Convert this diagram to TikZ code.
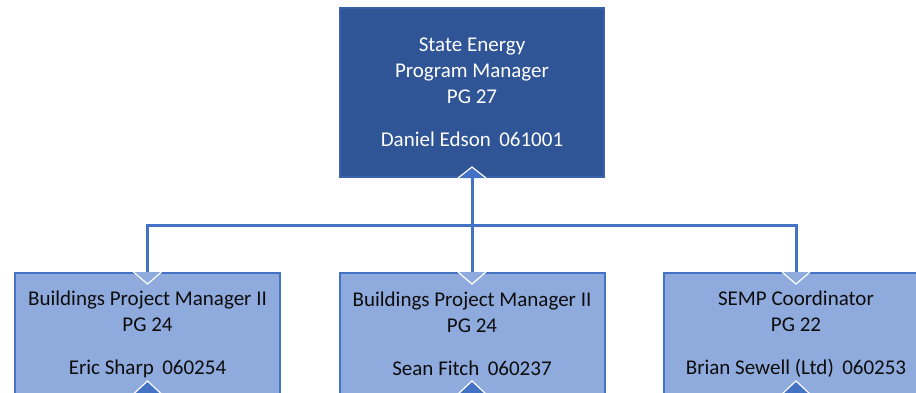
\documentclass[tikz,border=0pt]{standalone}
\usepackage{fontspec}
\setmainfont{Carlito}
\usetikzlibrary{positioning}
\definecolor{boxdark}{HTML}{2F5597}
\definecolor{boxlight}{HTML}{8FAADC}
\definecolor{linkblue}{HTML}{4472C4}
\definecolor{edgedark}{HTML}{3A62AC}

\begin{document}
\begin{tikzpicture}[x=1pt,y=-1pt,
  every node/.style={font=\fontsize{21}{26}\selectfont, align=center, inner sep=0pt},
  topbox/.style={draw=edgedark, line width=2pt, fill=boxdark, text=white, minimum width=264pt, minimum height=169pt},
  staffbox/.style={draw=linkblue, line width=2pt, fill=boxlight, text=black!95, minimum width=265pt, minimum height=122pt},
  link/.style={draw=linkblue, line width=3pt},
  notchup/.style={fill=linkblue, draw=white, line width=1.2pt, line join=miter},
  notchdown/.style={fill=boxlight, draw=white, line width=1.2pt, line join=miter}]
	\useasboundingbox (0,0) rectangle (916,392);
	\clip (0,0) rectangle (916,392);
	\node[topbox] (manager) at (472,92.5) {State Energy\\Program Manager\\PG 27\\[17pt]Daniel Edson\hspace{0.4em}061001};
	\node[staffbox] (pmA) at (147.5,334) {Buildings Project Manager II\\PG 24\\[17pt]Eric Sharp\hspace{0.4em}060254};
	\node[staffbox] (pmB) at (472,334) {Buildings Project Manager II\\PG 24\\[17pt]Sean Fitch\hspace{0.4em}060237};
	\node[staffbox] (semp) at (796,334) {SEMP Coordinator\\PG 22\\[17pt]Brian Sewell (Ltd)\hspace{0.4em}060253};
	\coordinate (bus) at (472,225);
	\draw[link] (manager.south) -- (pmB.north);
	\draw[link] (manager.south) -- (bus) -| (pmA.north);
	\draw[link] (bus) -| (semp.north);
	\draw[notchup] ([xshift=-14pt]manager.south) -- ([yshift=11pt]manager.south) -- ([xshift=14pt]manager.south);
	\foreach \n in {pmA,pmB,semp}{
		\draw[notchdown] ([xshift=-14pt]\n.north) -- ([yshift=-12pt]\n.north) -- ([xshift=14pt]\n.north);
		\draw[notchup] ([xshift=-14pt,yshift=2pt]\n.south) -- ([yshift=15pt]\n.south) -- ([xshift=14pt,yshift=2pt]\n.south);
	}
\end{tikzpicture}
\end{document}
